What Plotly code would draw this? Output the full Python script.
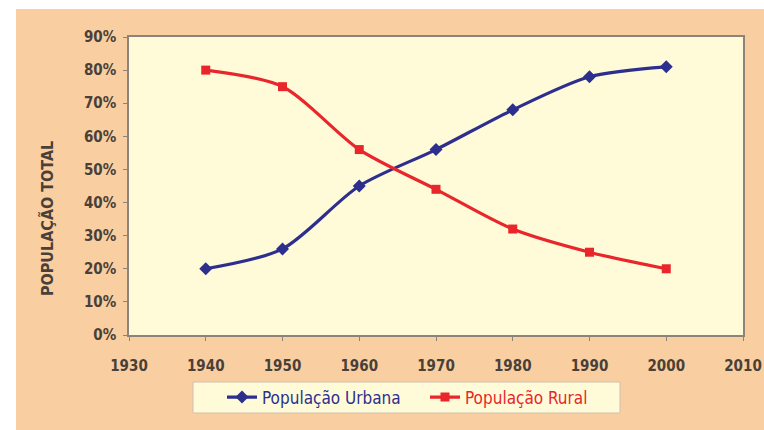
import plotly.graph_objects as go

years = [1940, 1950, 1960, 1970, 1980, 1990, 2000]
urbana = [20, 26, 45, 56, 68, 78, 81]
rural = [80, 75, 56, 44, 32, 25, 20]
y_ticks = [0, 10, 20, 30, 40, 50, 60, 70, 80, 90]
y_labels = [f"{v}%" for v in y_ticks]
x_ticks = [1930, 1940, 1950, 1960, 1970, 1980, 1990, 2000, 2010]

BLUE = "#2d2f8f"
RED = "#e8262b"
PEACH = "#f9cfa2"
PLOTBG = "#fffbd8"
TXT = "#4a4038"
FONT = "DejaVu Sans Condensed, Liberation Sans Narrow, Arial"

fig = go.Figure()
fig.add_trace(go.Scatter(
    x=years, y=urbana, mode="lines+markers",
    name=f'<span style="color:{BLUE}">População Urbana</span>',
    line=dict(color=BLUE, width=3.2, shape="spline", smoothing=0.8),
    marker=dict(symbol="diamond", size=10, color=BLUE),
))
fig.add_trace(go.Scatter(
    x=years, y=rural, mode="lines+markers",
    name=f'<span style="color:{RED}">População Rural</span>',
    line=dict(color=RED, width=3.2, shape="spline", smoothing=0.8),
    marker=dict(symbol="square", size=9, color=RED),
))

L, R, T, B = 129, 21, 37, 95
W, H = 764, 430
pw, ph = W - L - R, H - T - B

def px_x(p):
    return (p - L) / pw

def px_y(p):
    return (H - B - p) / ph

fig.update_layout(
    width=W, height=H,
    autosize=False,
    margin=dict(l=L, r=R, t=T, b=B, autoexpand=False),
    paper_bgcolor=PEACH,
    plot_bgcolor=PLOTBG,
    font=dict(family=FONT, color=TXT),
    showlegend=True,
    legend=dict(
        orientation="h",
        x=px_x(222), xanchor="left",
        y=px_y(397.5), yanchor="middle",
        bgcolor="rgba(0,0,0,0)",
        borderwidth=0,
        font=dict(size=17, family=FONT),
        entrywidth=158,
    ),
    xaxis=dict(
        range=[1930, 2010], tickvals=x_ticks,
        automargin=False,
        showgrid=False, zeroline=False,
        showline=True, linecolor="#8c8478", linewidth=1.5, mirror=True,
        ticks="outside", ticklen=4, tickcolor="#8c8478",
        ticklabelstandoff=12,
        tickfont=dict(size=15, family=FONT, weight="bold", color=TXT),
    ),
    yaxis=dict(
        range=[0, 90], tickvals=y_ticks, ticktext=y_labels,
        automargin=False,
        showgrid=False, zeroline=False,
        showline=True, linecolor="#8c8478", linewidth=1.5, mirror=True,
        ticks="outside", ticklen=4, tickcolor="#8c8478",
        ticklabelstandoff=4,
        tickfont=dict(size=15, family=FONT, weight="bold", color=TXT),
    ),
    annotations=[dict(
        text="POPULAÇÃO TOTAL", textangle=-90,
        xref="paper", yref="paper", x=px_x(47), y=px_y(219),
        xanchor="center", yanchor="middle", showarrow=False,
        font=dict(size=16, family=FONT, weight="bold", color=TXT),
    )],
    shapes=[
        dict(type="rect", xref="paper", yref="paper",
             x0=px_x(-5), x1=px_x(W + 5), y0=px_y(9), y1=px_y(-5),
             fillcolor="white", line=dict(width=0), layer="above"),
        dict(type="rect", xref="paper", yref="paper",
             x0=px_x(-5), x1=px_x(16), y0=px_y(H + 5), y1=px_y(-5),
             fillcolor="white", line=dict(width=0), layer="above"),
        dict(type="rect", xref="paper", yref="paper",
             x0=px_x(193), x1=px_x(620), y0=px_y(413), y1=px_y(382),
             fillcolor=PLOTBG, line=dict(width=1, color="#cdbfae"), layer="above"),
    ],
)

fig.write_html("out.html", config={"displayModeBar": False, "responsive": False})

with open("out.html", "r", encoding="utf-8") as f:
    html = f.read()
html = html.replace(
    "<head>",
    "<head><style>html,body{margin:0;padding:0;overflow:hidden;}</style>",
    1,
)
with open("out.html", "w", encoding="utf-8") as f:
    f.write(html)
